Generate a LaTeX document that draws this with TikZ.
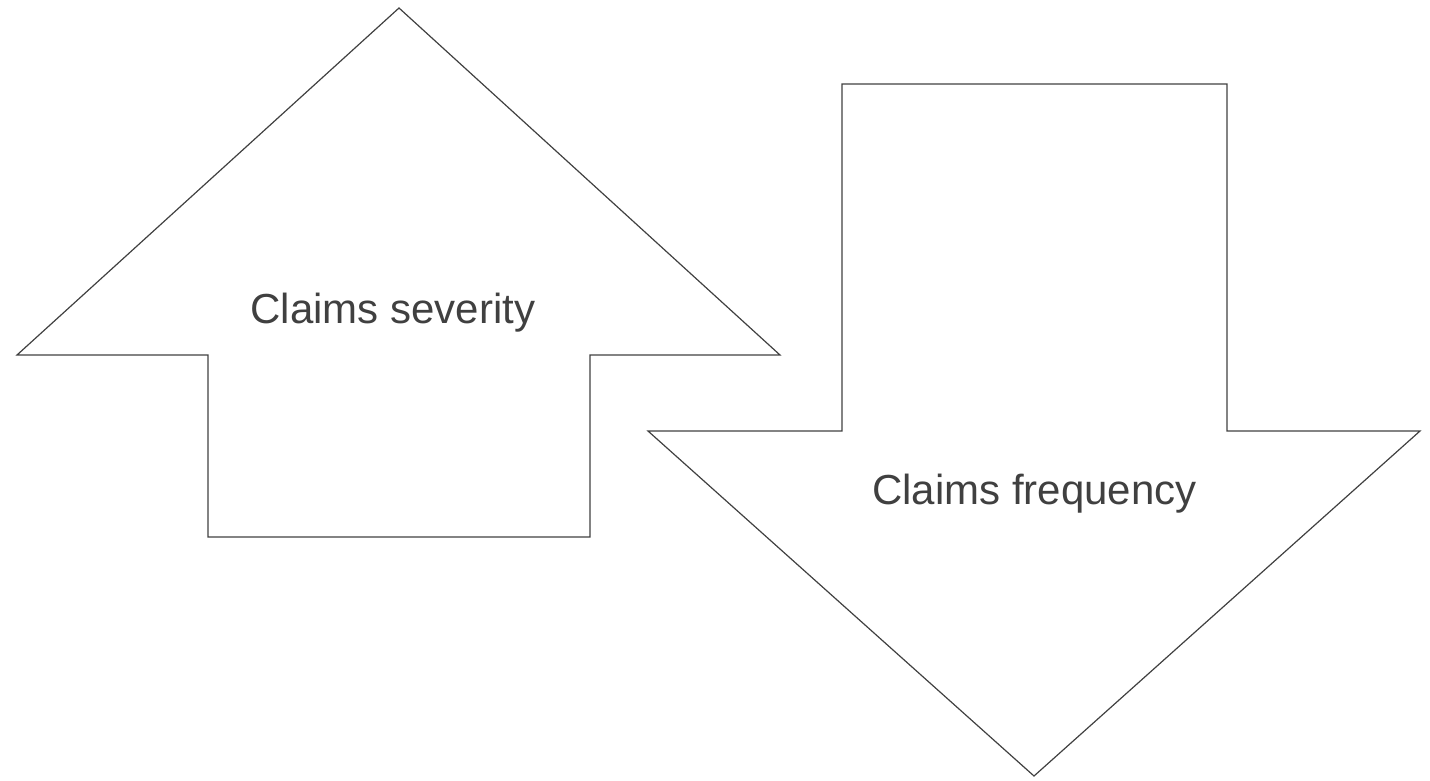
\documentclass[tikz,border=0pt]{standalone}
\usepackage{fontspec}
\setmainfont{Liberation Sans}
\definecolor{ink}{HTML}{404040}
\begin{document}
\begin{tikzpicture}[x=1pt,y=-1pt,
  arrowshape/.style={draw=ink,line width=1.2pt,line join=miter},
  lbl/.style={text=ink,font=\fontsize{42}{48}\selectfont,anchor=base,inner sep=0pt}]
\useasboundingbox (0,0) rectangle (1430,780);
\draw[arrowshape] (399,8) -- (780,355) -- (590,355) -- (590,537) -- (208,537) -- (208,355) -- (17,355) -- cycle;
\draw[arrowshape] (842,84) -- (1227,84) -- (1227,431) -- (1420,431) -- (1034,776) -- (648,431) -- (842,431) -- cycle;
\node[lbl] (sev) at (393,323) {Claims severity};
\node[lbl] (freq) at (1034.5,504) {Claims frequency};
\end{tikzpicture}
\end{document}
